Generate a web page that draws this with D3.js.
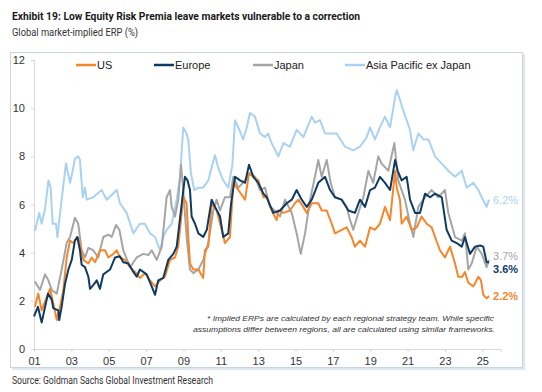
<!DOCTYPE html>
<html>
<head>
    <title>Low Equity Risk Premia</title>
    <script src="https://d3js.org/d3.v7.min.js"></script>
    <style>
        body {
            margin: 0;
            background-color: white;
            font-family: "Liberation Sans", Arial, sans-serif;
        }
        .tick-label { font-size: 11px; fill: #333; }
        .legend text { font-size: 11px; fill: #222; }
        .note { font-size: 8px; font-style: italic; fill: #333; }
    </style>
</head>
<body>
    <div id="chart"></div>
    <script>
        const width = 542;
        const height = 392;

        // series as [decimal year, ERP %]
        const us = [[2001.05,1.75],[2001.23,2.3],[2001.41,1.6],[2001.68,2.15],[2001.86,2.5],[2002.03,1.9],[2002.22,1.2],[2002.39,1.75],[2002.57,2.45],[2002.75,3.8],[2002.93,4.5],[2003.1,4.4],[2003.32,4.65],[2003.46,4.4],[2003.64,3.7],[2003.91,3.55],[2004.09,3.8],[2004.27,3.6],[2004.53,4.1],[2004.8,4.1],[2004.98,3.8],[2005.25,3.95],[2005.43,4.1],[2005.6,3.8],[2005.87,3.7],[2006.14,3.4],[2006.41,3.2],[2006.67,2.95],[2006.94,3.15],[2007.21,2.85],[2007.48,2.6],[2007.75,2.85],[2008.01,3.0],[2008.28,3.7],[2008.55,3.8],[2008.72,4.25],[2008.99,6.3],[2009.17,6.05],[2009.26,4.65],[2009.35,3.55],[2009.53,3.3],[2009.8,3.3],[2010.06,2.95],[2010.15,4.1],[2010.33,4.25],[2010.51,6.05],[2010.78,5.75],[2011.05,4.95],[2011.22,4.4],[2011.49,4.65],[2011.67,6.9],[2011.94,6.6],[2012.3,6.2],[2012.51,7.3],[2012.74,7.15],[2013.01,7.0],[2013.28,6.3],[2013.46,6.3],[2013.72,5.75],[2013.99,5.35],[2014.08,5.75],[2014.35,5.65],[2014.7,5.75],[2014.97,6.05],[2015.15,6.2],[2015.42,5.9],[2015.6,5.65],[2015.87,6.05],[2016.22,6.05],[2016.4,5.75],[2016.67,5.75],[2016.94,5.2],[2017.11,4.8],[2017.47,4.95],[2017.74,5.05],[2018.0,4.65],[2018.18,4.25],[2018.45,4.5],[2018.72,4.25],[2018.99,5.05],[2019.25,4.95],[2019.52,5.2],[2019.79,5.9],[2020.06,5.35],[2020.33,7.4],[2020.42,6.7],[2020.59,6.2],[2020.68,5.2],[2020.95,5.5],[2021.22,4.95],[2021.49,5.05],[2021.75,5.5],[2022.02,5.2],[2022.29,5.05],[2022.47,4.65],[2022.73,4.1],[2023.0,3.8],[2023.27,4.25],[2023.54,3.55],[2023.71,3.0],[2023.93,3.0],[2024.07,3.2],[2024.25,2.75],[2024.52,2.6],[2024.79,3.0],[2024.93,2.85],[2025.05,2.25],[2025.23,2.1],[2025.36,2.2]];

        const europe = [[2001.0,1.35],[2001.21,1.75],[2001.41,1.1],[2001.75,2.3],[2001.95,2.05],[2002.03,1.7],[2002.3,1.6],[2002.35,1.2],[2002.48,1.75],[2002.66,2.7],[2002.84,3.3],[2003.02,3.7],[2003.19,4.5],[2003.32,4.65],[2003.46,4.1],[2003.55,3.5],[2003.73,3.4],[2003.91,3.0],[2004.0,2.5],[2004.17,2.65],[2004.36,2.85],[2004.53,2.5],[2004.71,3.1],[2005.07,3.3],[2005.34,3.8],[2005.6,3.85],[2005.78,3.6],[2006.05,3.55],[2006.32,3.2],[2006.5,3.0],[2006.67,3.3],[2007.03,3.1],[2007.3,2.6],[2007.48,2.25],[2007.65,2.85],[2007.92,2.95],[2008.19,3.7],[2008.46,3.95],[2008.64,4.25],[2008.91,6.05],[2009.08,7.15],[2009.22,7.0],[2009.35,6.6],[2009.44,5.5],[2009.62,5.2],[2009.8,4.8],[2010.06,4.65],[2010.25,4.95],[2010.51,6.2],[2010.69,5.9],[2010.96,5.5],[2011.13,4.65],[2011.4,4.8],[2011.55,6.05],[2011.76,7.15],[2012.03,7.0],[2012.3,6.9],[2012.51,7.65],[2012.74,7.15],[2013.01,6.9],[2013.28,6.45],[2013.46,6.3],[2013.81,5.65],[2014.17,5.75],[2014.53,6.05],[2014.8,6.2],[2015.06,6.6],[2015.33,6.2],[2015.6,5.9],[2015.87,6.2],[2016.22,6.9],[2016.58,7.15],[2016.85,6.6],[2017.11,6.3],[2017.47,6.2],[2017.83,5.75],[2018.18,5.65],[2018.45,6.2],[2018.72,5.9],[2018.99,6.6],[2019.25,6.7],[2019.52,7.15],[2019.79,6.9],[2020.06,6.6],[2020.33,7.85],[2020.47,7.4],[2020.68,7.0],[2020.95,7.15],[2021.13,6.2],[2021.4,5.65],[2021.66,5.65],[2021.93,6.45],[2022.2,6.3],[2022.47,6.45],[2022.83,6.3],[2023.09,4.95],[2023.36,4.5],[2023.63,4.4],[2023.9,4.25],[2024.07,4.65],[2024.34,3.95],[2024.61,4.25],[2024.88,4.3],[2025.05,4.25],[2025.23,3.6],[2025.36,3.6]];

        const japan = [[2001.05,2.8],[2001.32,2.45],[2001.59,3.1],[2001.77,2.85],[2001.95,2.45],[2002.22,2.3],[2002.48,3.3],[2002.75,4.4],[2002.93,4.65],[2003.19,5.45],[2003.37,5.2],[2003.55,4.1],[2003.73,3.8],[2003.91,4.2],[2004.17,4.1],[2004.44,3.8],[2004.71,4.65],[2004.98,4.75],[2005.16,4.65],[2005.39,5.15],[2005.57,4.95],[2005.78,4.1],[2006.14,3.4],[2006.5,3.8],[2006.85,3.95],[2007.12,3.9],[2007.3,4.1],[2007.57,3.7],[2007.84,4.25],[2008.1,6.3],[2008.28,6.6],[2008.37,5.9],[2008.55,5.5],[2008.72,6.2],[2008.87,7.65],[2008.99,6.6],[2009.17,4.65],[2009.35,3.3],[2009.53,3.15],[2009.8,3.3],[2010.06,3.7],[2010.33,4.4],[2010.6,5.75],[2010.78,6.2],[2010.96,5.75],[2011.22,6.3],[2011.49,6.3],[2011.67,7.15],[2011.94,6.7],[2012.3,7.0],[2012.56,7.3],[2012.83,7.15],[2013.1,6.6],[2013.37,6.7],[2013.63,5.9],[2013.9,5.75],[2014.17,5.5],[2014.44,6.2],[2014.8,5.65],[2015.06,4.8],[2015.28,3.95],[2015.51,4.8],[2015.78,6.2],[2016.04,7.15],[2016.22,7.85],[2016.4,7.15],[2016.67,7.85],[2016.88,6.9],[2017.11,6.3],[2017.47,6.2],[2017.74,5.9],[2017.92,5.35],[2018.09,4.95],[2018.36,5.65],[2018.63,6.3],[2018.9,7.4],[2019.16,6.9],[2019.43,8.0],[2019.61,7.7],[2019.97,7.4],[2020.29,8.55],[2020.5,7.0],[2020.68,6.6],[2020.86,6.2],[2021.13,5.2],[2021.31,4.65],[2021.57,5.9],[2021.93,6.3],[2022.29,6.6],[2022.64,6.3],[2023.0,6.6],[2023.18,5.65],[2023.54,4.65],[2023.9,4.5],[2024.07,4.8],[2024.25,3.3],[2024.43,3.55],[2024.7,4.25],[2024.97,3.95],[2025.23,3.4],[2025.36,3.7]];

        const asiaPac = [[2001.05,4.9],[2001.28,5.65],[2001.41,5.2],[2001.59,5.8],[2001.77,7.0],[2001.89,6.7],[2002.0,5.2],[2002.18,5.2],[2002.25,4.65],[2002.48,6.2],[2002.71,7.7],[2002.93,6.9],[2003.07,7.4],[2003.19,7.9],[2003.37,8.0],[2003.46,7.85],[2003.61,6.3],[2003.73,6.7],[2003.82,6.2],[2004.17,6.3],[2004.62,6.6],[2004.89,6.2],[2005.43,6.6],[2005.6,6.05],[2005.96,5.65],[2006.32,4.8],[2006.67,5.2],[2006.94,5.2],[2007.21,4.8],[2007.48,4.65],[2007.75,4.1],[2007.92,4.65],[2008.1,4.95],[2008.37,5.2],[2008.64,6.2],[2008.82,7.15],[2008.99,9.2],[2009.17,8.95],[2009.26,8.7],[2009.4,7.3],[2009.58,6.6],[2009.8,6.7],[2010.06,6.7],[2010.33,7.0],[2010.51,7.55],[2010.69,8.05],[2010.87,7.5],[2011.13,7.0],[2011.4,6.7],[2011.62,7.65],[2011.76,9.5],[2011.94,9.2],[2012.2,8.7],[2012.39,9.2],[2012.56,9.8],[2012.83,9.65],[2013.1,8.95],[2013.37,8.8],[2013.53,8.95],[2013.72,8.55],[2014.08,8.0],[2014.35,8.55],[2014.7,8.4],[2015.06,9.1],[2015.42,8.8],[2015.87,9.65],[2016.04,9.4],[2016.31,9.5],[2016.58,8.95],[2016.85,8.95],[2017.2,8.95],[2017.65,8.4],[2018.09,8.25],[2018.45,8.4],[2018.81,8.8],[2018.99,9.2],[2019.25,8.7],[2019.52,9.2],[2019.79,9.65],[2020.06,9.2],[2020.33,10.45],[2020.42,10.75],[2020.59,10.35],[2020.77,9.9],[2020.95,9.5],[2021.13,9.1],[2021.3,8.25],[2021.57,8.95],[2021.84,8.7],[2022.11,8.7],[2022.47,8.0],[2022.83,7.7],[2023.18,7.4],[2023.54,7.15],[2023.9,7.4],[2024.16,6.7],[2024.52,6.9],[2024.79,6.6],[2024.97,6.3],[2025.23,5.9],[2025.36,6.2]];

        const yTicks = [0, 2, 4, 6, 8, 10, 12];
        const xTicks = [2001, 2003, 2005, 2007, 2009, 2011, 2013, 2015, 2017, 2019, 2021, 2023, 2025];

        const seriesNames = ["US", "Europe", "Japan", "Asia Pacific ex Japan"];
        const endLabels = ["2.2%", "3.6%", "3.7%", "6.2%"];
        const colors = ["#f5862b", "#0e3a63", "#a5a5a5", "#a9d2f2"];

        const svg = d3.select("#chart")
            .append("svg")
            .attr("width", width)
            .attr("height", height);

        // Titles
        svg.append("text")
            .attr("x", 12).attr("y", 20)
            .attr("textLength", 348).attr("lengthAdjust", "spacingAndGlyphs")
            .style("font-family", "Roboto, sans-serif")
            .style("font-weight", "bold")
            .style("font-size", "11.5px")
            .style("fill", "#1a1a1a")
            .text("Exhibit 19: Low Equity Risk Premia leave markets vulnerable to a correction");

        svg.append("text")
            .attr("x", 12).attr("y", 36)
            .attr("textLength", 126).attr("lengthAdjust", "spacingAndGlyphs")
            .style("font-family", "Roboto, sans-serif")
            .style("font-size", "10.5px")
            .style("fill", "#333")
            .text("Global market-implied ERP (%)");

        // Panel with a soft shadow
        svg.append("rect")
            .attr("x", 12).attr("y", 54).attr("width", 513).attr("height", 316)
            .attr("fill", "#dfe6ee");
        svg.append("rect")
            .attr("x", 10.5).attr("y", 52.5).attr("width", 512).attr("height", 315)
            .attr("fill", "white")
            .attr("stroke", "#c9d5e2");

        const x = d3.scaleLinear().domain([2001, 2026]).range([34, 501]);
        const y = d3.scaleLinear().domain([0, 12]).range([349, 60]);

        // Axes
        const yAxis = svg.append("g")
            .attr("transform", "translate(34,0)")
            .call(d3.axisLeft(y).tickValues(yTicks).tickSize(3).tickPadding(6));
        const xAxis = svg.append("g")
            .attr("transform", "translate(0,349)")
            .call(d3.axisBottom(x).tickValues(xTicks).tickSize(3).tickPadding(5)
                .tickFormat(d => String(d).slice(2)));

        [yAxis, xAxis].forEach(ax => {
            ax.select(".domain").attr("stroke", "#d9d9d9");
            ax.selectAll(".tick line").attr("stroke", "#d9d9d9");
            ax.selectAll(".tick text")
                .attr("class", "tick-label")
                .style("font-family", "Liberation Sans, Arial, sans-serif");
        });

        // Lines (drawn back to front)
        const line = d3.line()
            .x(d => x(d[0]))
            .y(d => y(d[1]));

        const data = [us, europe, japan, asiaPac];
        [3, 2, 0, 1].forEach(i => {
            svg.append("path")
                .datum(data[i])
                .attr("fill", "none")
                .attr("stroke", colors[i])
                .attr("stroke-width", 2)
                .attr("stroke-linejoin", "round")
                .attr("d", line);
        });

        // End labels
        const labelY = [2.2, 3.3, 3.85, 6.2];
        endLabels.forEach((t, i) => {
            const last = data[i][data[i].length - 1];
            svg.append("text")
                .attr("x", x(last[0]) + 4)
                .attr("y", y(labelY[i]))
                .attr("dy", "0.35em")
                .style("font-size", "11px")
                .style("font-weight", (i === 0 || i === 1) ? "bold" : "normal")
                .style("fill", colors[i])
                .text(t);
        });

        // Legend
        const legendX = [76, 154, 253, 345];
        const legend = svg.append("g").attr("class", "legend");
        seriesNames.forEach((n, i) => {
            legend.append("line")
                .attr("x1", legendX[i]).attr("x2", legendX[i] + 20)
                .attr("y1", 65).attr("y2", 65)
                .attr("stroke", colors[i])
                .attr("stroke-width", 2.5);
            legend.append("text")
                .attr("x", legendX[i] + 21).attr("y", 69)
                .text(n);
        });

        // Footnote
        svg.append("text")
            .attr("class", "note")
            .attr("x", 494).attr("y", 321)
            .attr("text-anchor", "end")
            .attr("textLength", 287).attr("lengthAdjust", "spacingAndGlyphs")
            .text("* Implied ERPs are calculated by each regional strategy team. While specific");
        svg.append("text")
            .attr("class", "note")
            .attr("x", 495).attr("y", 332)
            .attr("text-anchor", "end")
            .attr("textLength", 302).attr("lengthAdjust", "spacingAndGlyphs")
            .text("assumptions differ between regions, all are calculated using similar frameworks.");

        // Source
        svg.append("text")
            .attr("x", 12).attr("y", 384)
            .attr("textLength", 201).attr("lengthAdjust", "spacingAndGlyphs")
            .style("font-family", "Roboto, sans-serif")
            .style("font-size", "10px")
            .style("fill", "#333")
            .text("Source: Goldman Sachs Global Investment Research");
    </script>
</body>
</html>
